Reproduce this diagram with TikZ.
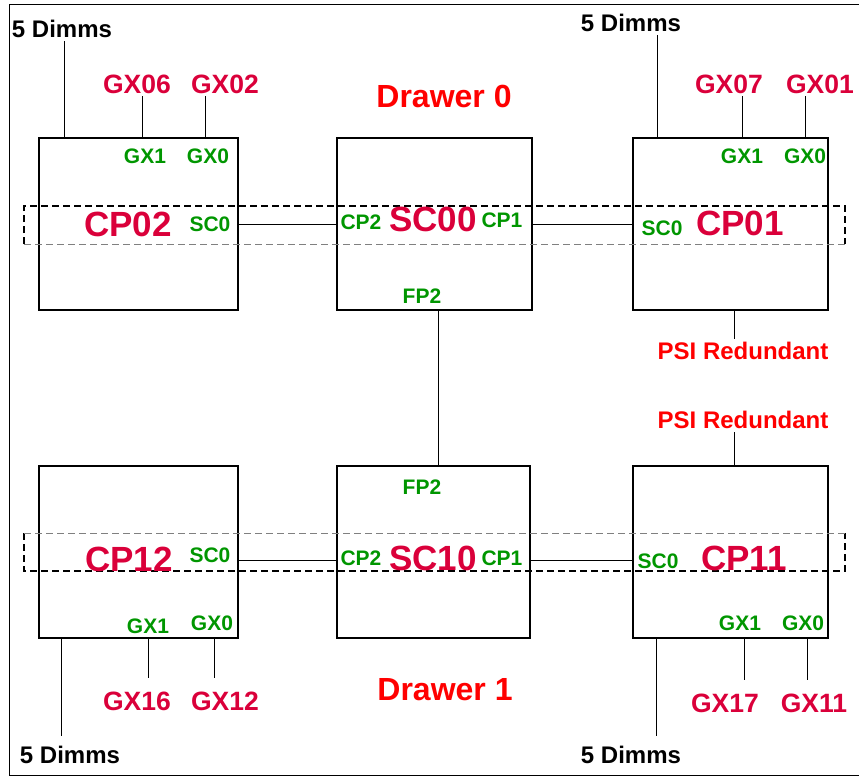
\documentclass[tikz,border=0pt]{standalone}
\usepackage{fontspec}
\setmainfont{Liberation Sans}
\usetikzlibrary{positioning}
\definecolor{ChipRed}{RGB}{218,0,58}
\definecolor{TitleRed}{RGB}{255,0,0}
\definecolor{PortGreen}{RGB}{0,150,0}

\begin{document}
\begin{tikzpicture}[x=1pt,y=-1pt,
    box/.style={draw, line width=1.4pt, minimum width=195pt, minimum height=172pt, inner sep=0pt},
    chip/.style={text=ChipRed, font=\fontsize{35pt}{37pt}\selectfont\bfseries, inner sep=0pt},
    port/.style={text=PortGreen, font=\fontsize{21pt}{23pt}\selectfont\bfseries, inner sep=1pt},
    gx/.style={text=ChipRed, font=\fontsize{26.5pt}{28pt}\selectfont\bfseries, inner sep=2pt},
    dimm/.style={font=\fontsize{24pt}{26pt}\selectfont\bfseries, inner sep=3pt},
    psi/.style={text=TitleRed, font=\fontsize{24pt}{26pt}\selectfont\bfseries, inner sep=3pt},
    drawer/.style={text=TitleRed, font=\fontsize{32pt}{34pt}\selectfont\bfseries},
    wire/.style={line width=1pt},
    bandedge/.style={dash pattern=on 7pt off 4pt, line width=1.7pt},
    bandline/.style={gray, dash pattern=on 7pt off 4pt, line width=1pt}]
  \useasboundingbox (0,0) rectangle (859,776);
  \draw[line width=1pt] (859,5) -- (9.5,5) -- (9.5,775) -- (859,775);

  % drawer 0
  \node[box, minimum width=199pt] (cp02) at (138.5,224) {};
  \node[box] (sc00) at (434.5,224) {};
  \node[box] (cp01) at (730.5,224) {};
  % drawer 1
  \node[box, minimum width=199pt] (cp12) at (138.5,552) {};
  \node[box, minimum width=193pt] (sc10) at (433.5,552) {};
  \node[box] (cp11) at (730.5,552) {};

  % dashed bands
  \draw[bandedge] (24,244) -- (24,206) -- (845,206) -- (845,244);
  \draw[bandline] (24,244) -- (845,244);
  \draw[bandedge] (24,533) -- (24,571) -- (845,571) -- (845,533);
  \draw[bandline] (24,533) -- (845,533);

  \node[drawer] (dr0) at (444,96) {Drawer 0};
  \node[drawer] (dr1) at (445,690) {Drawer 1};

  \node[chip] (cp02n) at (128,224) {CP02};
  \node[chip] (sc00n) at (433,219) {SC00};
  \node[chip] (cp01n) at (740,223) {CP01};
  \node[chip] (cp12n) at (129,559) {CP12};
  \node[chip] (sc10n) at (433,558) {SC10};
  \node[chip] (cp11n) at (744,558) {CP11};

  \node[port] (sc0a) at (210,224) {SC0};
  \node[port] (cp2a) at (361,222) {CP2};
  \node[port] (cp1a) at (502,220) {CP1};
  \node[port] (sc0b) at (662,228) {SC0};
  \node[port] (fp2a) at (422,296) {FP2};
  \node[port] (sc0c) at (210,555) {SC0};
  \node[port] (cp2c) at (361,558) {CP2};
  \node[port] (cp1c) at (502,558) {CP1};
  \node[port] (sc0d) at (658,561) {SC0};
  \node[port] (fp2c) at (422,487) {FP2};

  \node[port] (gx1a) at (145,156) {GX1};
  \node[port] (gx0a) at (208,156) {GX0};
  \node[port] (gx1b) at (742,156) {GX1};
  \node[port] (gx0b) at (805,156) {GX0};
  \node[port] (gx1c) at (148,626) {GX1};
  \node[port] (gx0c) at (212,623) {GX0};
  \node[port] (gx1d) at (740,623) {GX1};
  \node[port] (gx0d) at (803,623) {GX0};

  \node[gx] (gx06) at (137,84) {GX06};
  \node[gx] (gx02) at (225,84) {GX02};
  \node[gx] (gx07) at (729,84) {GX07};
  \node[gx] (gx01) at (820,84) {GX01};
  \node[gx] (gx16) at (137,701) {GX16};
  \node[gx] (gx12) at (225,701) {GX12};
  \node[gx] (gx17) at (725,703) {GX17};
  \node[gx] (gx11) at (814,703) {GX11};

  \node[dimm] (dimA) at (62,29) {5 Dimms};
  \node[dimm] (dimB) at (631,23) {5 Dimms};
  \node[dimm] (dimC) at (70,755) {5 Dimms};
  \node[dimm] (dimD) at (631,755) {5 Dimms};

  \node[psi] (psiA) at (743,351) {PSI Redundant};
  \node[psi] (psiB) at (743,420) {PSI Redundant};

  % links
  \draw[wire] (cp02.east) -- (sc00.west);
  \draw[wire] (sc00.east) -- (cp01.west);
  \draw[wire] ([yshift=-8pt]cp12.east) -- ([yshift=-8pt]sc10.west);
  \draw[wire] ([yshift=-8pt]sc10.east) -- ([yshift=-8pt]cp11.west);
  \draw[wire] ([xshift=4pt]sc00.south) -- ([xshift=4pt]sc00.south |- sc10.north);

  % pins
  \coordinate (pa1) at (142,138);
  \coordinate (pa0) at (205,138);
  \coordinate (pb1) at (742,138);
  \coordinate (pb0) at (805,138);
  \coordinate (qa) at (64,138);
  \coordinate (qb) at (657,138);
  \coordinate (ra) at (734,310);
  \foreach \p/\l in {pa1/gx06,pa0/gx02,pb1/gx07,pb0/gx01,qa/dimA,qb/dimB}
    \draw[wire] (\p) -- (\p |- \l.south);
  \draw[wire] (ra) -- (ra |- psiA.north);

  \coordinate (pc1) at (148,638);
  \coordinate (pc0) at (214,638);
  \coordinate (pd1) at (744,638);
  \coordinate (pd0) at (807,638);
  \coordinate (qc) at (61,638);
  \coordinate (qd) at (656,638);
  \coordinate (rb) at (734,466);
  \foreach \p/\l in {pc1/gx16,pc0/gx12,pd1/gx17,pd0/gx11}
    \draw[wire, shorten >=11pt] (\p) -- (\p |- \l.north);
  \foreach \p/\l in {qc/dimC,qd/dimD}
    \draw[wire, shorten >=7pt] (\p) -- (\p |- \l.north);
  \draw[wire] (rb) -- (rb |- psiB.south);
\end{tikzpicture}
\end{document}
